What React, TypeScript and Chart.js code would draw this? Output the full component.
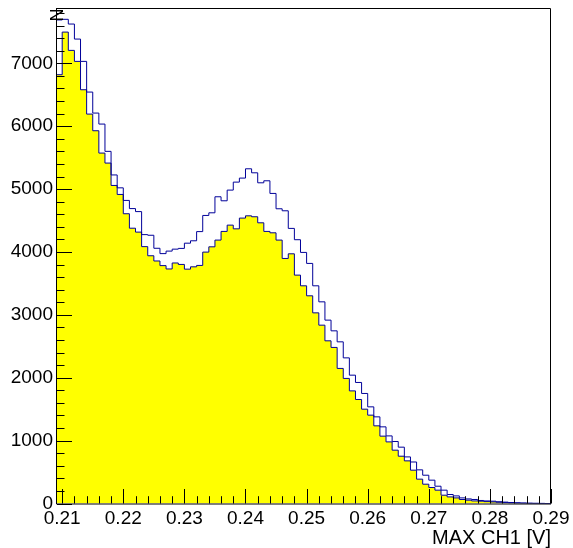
import React, { useEffect, useRef } from 'react';
import { Chart, registerables } from 'chart.js';

Chart.register(...registerables);

// Histogram binning: 81 bins of 0.001 V, the first one starting at 0.209 V
const binStart = 0.209;
const binWidth = 0.001;

// Counts per bin, outlined histogram (upper curve)
const countsOutline = [
  7690, 7700, 7625, 7386, 7031, 6543, 6209, 6034, 5600, 5225,
  5020, 4820, 4690, 4642, 4276, 4266, 4059, 3974, 4014, 4045,
  4057, 4140, 4178, 4324, 4581, 4623, 4878, 4814, 4984, 5111,
  5175, 5323, 5259, 5100, 5132, 4931, 4687, 4655, 4375, 4195,
  3993, 3818, 3462, 3207, 2916, 2746, 2571, 2316, 2041, 1925,
  1750, 1537, 1378, 1219, 1075, 986, 896, 741, 660, 535,
  450, 371, 275, 212, 143, 121, 89, 73, 64, 48,
  41, 37, 28, 22, 16, 12, 8, 5, 3, 2,
  0,
];

// Counts per bin, yellow filled histogram (lower curve)
const countsFilled = [
  6819, 7497, 7206, 7031, 6580, 6193, 5928, 5573, 5414, 5058,
  4915, 4608, 4378, 4316, 4085, 3940, 3857, 3783, 3730, 3825,
  3802, 3727, 3764, 3786, 3998, 4082, 4189, 4327, 4427, 4368,
  4539, 4575, 4560, 4464, 4327, 4305, 4189, 3897, 3971, 3632,
  3462, 3303, 3032, 2836, 2587, 2482, 2148, 1989, 1791, 1654,
  1500, 1405, 1235, 1071, 980, 848, 752, 678, 530, 387,
  307, 254, 212, 132, 105, 89, 64, 53, 41, 37,
  30, 25, 20, 14, 9, 6, 4, 2, 1, 0,
  0,
];

const xTickValues = [0.21, 0.22, 0.23, 0.24, 0.25, 0.26, 0.27, 0.28, 0.29];
const yTickValues = [0, 1000, 2000, 3000, 4000, 5000, 6000, 7000];
const xMinorStep = 0.002;
const yMinorStep = 200;

const xMin = 0.20915;
const xMax = 0.29;
const yMin = 0;
const yMax = 7880;

const xTitle = 'MAX CH1 [V]';
const yTitle = 'N';

const lineColor = '#000099';
const fillColor = '#ffff00';
const fontFamily = "'Liberation Sans', Arial, Helvetica, sans-serif";

// Bin edges -> points for a 'before'-stepped line (each value held across its bin)
function toSteps(values: number[]) {
  const pts = values.map((v, i) => ({ x: binStart + i * binWidth, y: v }));
  pts.push({ x: binStart + values.length * binWidth, y: values[values.length - 1] });
  return pts;
}

// ROOT-style frame: inward ticks, frame lines and axis titles
const rootFrame = {
  id: 'rootFrame',
  afterDatasetsDraw(chart: any) {
    const { ctx, chartArea: a, scales } = chart;
    const xs = scales.x;
    const ys = scales.y;
    ctx.save();
    ctx.strokeStyle = '#000';
    ctx.lineWidth = 1;

    // y ticks
    for (let v = yMin, k = 0; v <= yMax; k++, v = yMin + k * yMinorStep) {
      const py = Math.round(ys.getPixelForValue(v)) + 0.5;
      const len = v % 1000 === 0 ? 15 : 7.5;
      ctx.beginPath();
      ctx.moveTo(a.left, py);
      ctx.lineTo(a.left + len, py);
      ctx.stroke();
    }
    // x ticks
    for (let k = 0; k <= 40; k++) {
      const v = xTickValues[0] + k * xMinorStep;
      if (v > xMax + 1e-9) break;
      const px = Math.round(xs.getPixelForValue(v)) + 0.5;
      const len = k % 5 === 0 ? 14.5 : 7.3;
      ctx.beginPath();
      ctx.moveTo(px, a.bottom);
      ctx.lineTo(px, a.bottom - len);
      ctx.stroke();
    }

    // frame
    ctx.beginPath();
    ctx.moveTo(a.left - 0.5, a.top + 0.5);
    ctx.lineTo(a.right - 0.5, a.top + 0.5);
    ctx.lineTo(a.right - 0.5, a.bottom);
    ctx.moveTo(a.left - 0.5, a.top);
    ctx.lineTo(a.left - 0.5, a.bottom + 0.5);
    ctx.lineTo(a.right, a.bottom + 0.5);
    ctx.stroke();

    // axis titles
    ctx.fillStyle = '#000';
    ctx.font = `20px ${fontFamily}`;
    ctx.textAlign = 'right';
    ctx.textBaseline = 'alphabetic';
    ctx.fillText(xTitle, a.right, 544);

    ctx.translate(63, 15);
    ctx.rotate(-Math.PI / 2);
    ctx.font = `18px ${fontFamily}`;
    ctx.textAlign = 'center';
    ctx.fillText(yTitle, 0, 0);
    ctx.restore();
  },
};

export default function App() {
  const canvasRef = useRef<HTMLCanvasElement | null>(null);

  useEffect(() => {
    const canvas = canvasRef.current;
    if (!canvas) return;
    const tickFont = { family: fontFamily, size: 19 };

    const chart = new Chart(canvas, {
      type: 'line',
      data: {
        datasets: [
          {
            label: 'outline',
            data: toSteps(countsOutline),
            stepped: 'before',
            borderColor: lineColor,
            borderWidth: 1,
            pointRadius: 0,
            fill: false,
          },
          {
            label: 'filled',
            data: toSteps(countsFilled),
            stepped: 'before',
            borderColor: lineColor,
            borderWidth: 1,
            pointRadius: 0,
            backgroundColor: fillColor,
            fill: 'origin',
          },
        ],
      },
      options: {
        animation: false,
        responsive: false,
        devicePixelRatio: 1,
        layout: { padding: { top: 8, right: 22, left: 0, bottom: 0 } },
        plugins: {
          legend: { display: false },
          tooltip: { enabled: false },
        },
        events: [],
        scales: {
          x: {
            type: 'linear',
            min: xMin,
            max: xMax,
            grid: { display: false, drawTicks: false },
            border: { display: false },
            ticks: {
              font: tickFont,
              color: '#000',
              padding: 4,
              maxRotation: 0,
              autoSkip: false,
              callback: (v: any) => Number(v).toFixed(2),
            },
            afterBuildTicks: (s: any) => {
              s.ticks = xTickValues.map((v) => ({ value: v }));
            },
            afterFit: (s: any) => {
              s.height = 44.5;
              s.paddingLeft = 0;
              s.paddingRight = 0;
            },
          },
          y: {
            type: 'linear',
            min: yMin,
            max: yMax,
            grid: { display: false, drawTicks: false },
            border: { display: false },
            ticks: {
              font: tickFont,
              color: '#000',
              padding: 4,
              autoSkip: false,
              callback: (v: any) => String(v),
            },
            afterBuildTicks: (s: any) => {
              s.ticks = yTickValues.map((v) => ({ value: v }));
            },
            afterFit: (s: any) => {
              s.width = 57;
              s.paddingTop = 0;
              s.paddingBottom = 0;
            },
          },
        },
      },
      plugins: [rootFrame],
    });

    return () => chart.destroy();
  }, []);

  return (
    <div style={{ position: 'absolute', left: 0, top: 0, width: 573, height: 548, background: '#fff' }}>
      <canvas ref={canvasRef} width={573} height={548} />
    </div>
  );
}
